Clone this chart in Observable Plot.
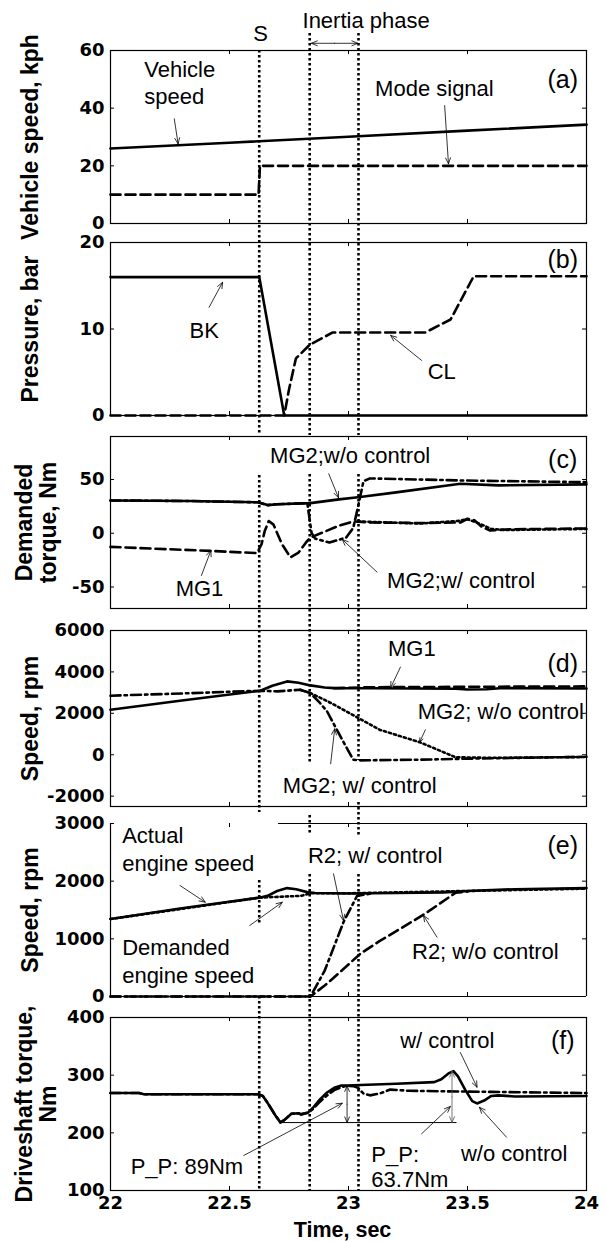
<!DOCTYPE html>
<html><head><meta charset="utf-8">
<script src="https://cdn.jsdelivr.net/npm/d3@7"></script>
<script src="https://cdn.jsdelivr.net/npm/@observablehq/plot@0.6"></script>
<style>
body{margin:0;background:#fff}
#chart{position:relative;width:606px;height:1241px;background:#fff}
#chart svg{position:absolute;left:0;top:0}
</style></head><body><div id="chart"></div><script>
// ---------------- data ----------------
const xTicks = [22, 22.5, 23, 23.5, 24];
const eventTimes = [22.625, 22.837, 23.042]; // S, inertia start, inertia end

// (a)
const aTicks = [0, 20, 40, 60];
const vehicleSpeed = [[22,26.0],[22.5,28.0],[23,30.1],[23.5,32.2],[24,34.3]];
const modeSignal = [[22,10],[22.622,10],[22.628,20],[24,20]];
// (b)
const bTicks = [0, 10, 20];
const pressBK = [[22,16],[22.625,16],[22.73,0],[24,0]];
const pressCL = [[22,0],[22.73,0],[22.75,3],[22.779,6.6],[22.838,8.2],[22.934,9.6],[23.323,9.6],[23.429,11.1],[23.526,16.1],[24,16.1]];
// (c)
const cTicks = [-50, 0, 50];
const torqMG2NoCtrl = [[22,30.5],[22.33,30],[22.62,28.8],[22.66,26.2],[22.7,27],[22.84,28],[22.96,31.5],[23.04,33.5],[23.2,38],[23.47,46],[23.63,44.5],[24,45.5]];
const torqMG2Ctrl = [[22,30.5],[22.33,30],[22.62,28.8],[22.66,26.2],[22.7,27],[22.827,28],[22.845,0],[22.86,-5],[22.92,-8.7],[22.99,-4],[23.02,5],[23.036,20.6],[23.063,48.4],[23.09,51],[23.5,49],[24,47.5]];
const torqMG1 = [[22,-12.7],[22.42,-16.4],[22.616,-18.5],[22.635,-10],[22.648,2],[22.665,11.4],[22.685,8],[22.72,-10],[22.756,-22.4],[22.79,-18],[22.82,-9],[22.84,-4],[22.9,1.5],[22.96,7],[23.02,11],[23.1,10],[23.3,9.5],[23.47,10],[23.5,13.5],[23.53,12],[23.56,6],[23.595,2.5],[23.68,3.7],[24,4.5]];
const torqMG1Alt = [[23.04,11],[23.3,9],[23.46,11.5],[23.5,13],[23.55,9],[23.6,4],[23.66,3],[24,4]];
// (d)
const dTicks = [-2000, 0, 2000, 4000, 6000];
const spdMG1 = [[22,2174],[22.3,2620],[22.63,3092],[22.68,3330],[22.742,3541],[22.79,3480],[22.84,3348],[22.9,3250],[22.94,3217],[23.1,3210],[23.45,3190],[23.5,3150],[23.58,3160],[23.65,3220],[24,3200]];
const spdMG1Alt = [[22.94,3217],[23.1,3260],[23.5,3280],[24,3300]];
const spdMG2Ctrl = [[22,2850],[22.3,2960],[22.63,3092],[22.7,3058],[22.797,3140],[22.84,2976],[22.88,2500],[22.91,2092],[22.966,884],[23.02,-242],[23.05,-270],[23.3,-240],[23.5,-190],[24,-100]];
const spdMG2NoCtrl = [[22.797,3140],[22.84,2976],[22.9,2650],[22.94,2415],[23.05,1720],[23.13,1210],[23.3,600],[23.45,-120],[23.6,-150],[24,-110]];
// (e)
const eTicks = [0, 1000, 2000, 3000];
const engActual = [[22,1343],[22.3,1530],[22.63,1716],[22.66,1745],[22.7,1830],[22.742,1880],[22.78,1860],[22.826,1810],[22.86,1795],[23.0,1785],[23.2,1795],[23.4,1805],[23.5,1830],[23.7,1860],[24,1880]];
const engDemand = [[22,1343],[22.63,1716],[22.8,1745],[22.84,1790],[23.0,1790],[23.5,1830],[24,1870]];
const r2Ctrl = [[22,0],[22.84,0],[22.9,450],[22.98,1300],[23.036,1745],[23.1,1790]];
const r2NoCtrl = [[22,0],[22.84,0],[22.9,190],[22.94,333],[23.05,742],[23.13,960],[23.22,1180],[23.32,1430],[23.45,1800],[23.5,1820]];
// (f)
const fTicks = [100, 200, 300, 400];
const shaftNoCtrl = [[22,269],[22.12,269],[22.14,267],[22.62,267],[22.64,264],[22.66,252],[22.69,232],[22.714,218],[22.73,222],[22.76,233],[22.79,234],[22.8,232],[22.83,235],[22.85,243],[22.88,258],[22.91,270],[22.94,278],[22.97,282],[23.0,282],[23.05,283],[23.2,285],[23.36,288],[23.39,293],[23.42,303],[23.441,307],[23.46,298],[23.49,275],[23.52,255],[23.54,251],[23.57,256],[23.6,264],[23.63,265],[23.7,263],[24,264]];
const shaftCtrl = [[22,269],[22.12,269],[22.14,267],[22.62,267],[22.64,264],[22.66,252],[22.69,232],[22.714,218],[22.73,222],[22.76,233],[22.79,234],[22.8,232],[22.83,235],[22.85,241],[22.88,254],[22.91,265],[22.94,274],[22.97,279],[22.99,281.5],[23.02,281],[23.04,278],[23.063,268],[23.09,265],[23.13,268],[23.175,275],[23.25,273],[23.4,272],[23.6,271],[24,269]];
const ppMin = 217.8, ppPeakCtrl = 281.5, ppPeakNoCtrl = 306.8;
const ppTimes = [22.714, 22.994, 23.435, 23.456];

// ---------------- layout ----------------
const W = 606, H = 1241, ML = 110, MR = 20;
const FONT = "'Liberation Sans', Arial, sans-serif";
const TFONT = "'DejaVu Sans', sans-serif";
const LS = {
  solid: {strokeWidth: 2.6},
  dashed: {strokeWidth: 2.6, strokeDasharray: "10,5"},
  dashdot: {strokeWidth: 2.6, strokeDasharray: "10,4,2.5,4"},
  dotted: {strokeWidth: 2.6, strokeDasharray: "2.2,3"}
};
const line = (data, style) => Plot.line(data, {x: d => d[0], y: d => d[1], stroke: "black", strokeLinejoin: "round", ...LS[style]});
const arrows = (arr, color = "black") => Plot.arrow(arr, {x1: "x1", y1: "y1", x2: "x2", y2: "y2", stroke: color, strokeWidth: 0.8, headLength: 12, headAngle: 45});

function panel(cfg) {
  const {top, bottom, yDomain, yTicks, title, titleDx, lines, notes, arr, extra = [], bottomAxis = false, customFrame = null} = cfg;
  const ph = bottom - top, pw = W - ML - MR;
  const inner = xTicks.slice(1, -1);
  const marks = [
    ...lines,
    ...extra,
    customFrame ? customFrame : Plot.frame({stroke: "black", strokeWidth: 1.2}),
    Plot.tickY(yTicks, {y: d => d, insetRight: pw - 4, stroke: "black"}),
    Plot.tickY(yTicks, {y: d => d, insetLeft: pw - 4, stroke: "black"}),
    Plot.tickX(inner, {x: d => d, insetBottom: ph - 4, stroke: "black"}),
    Plot.tickX(inner, {x: d => d, insetTop: ph - 4, stroke: "black"}),
    Plot.text(yTicks, {y: d => d, frameAnchor: "left", textAnchor: "end", lineAnchor: "middle", dx: -6, text: d => String(d), fontFamily: TFONT, fontWeight: "bold", fontSize: 18, fill: "black"}),
    Plot.text([title], {frameAnchor: "left", textAnchor: "middle", lineAnchor: "middle", rotate: -90, dx: titleDx, text: d => d, fontFamily: FONT, fontWeight: "bold", fontSize: 23, lineHeight: 1.05, fill: "black"}),
    arrows(arr),
    ...notes.map(n => Plot.text([n], {x: "x", y: "y", text: "text", textAnchor: n.anchor || "middle", lineAnchor: "middle", lineHeight: n.lh || 1, fontFamily: FONT, fontSize: n.size || 22, fill: "black"}))
  ];
  if (bottomAxis) {
    marks.push(Plot.text(xTicks, {x: d => d, frameAnchor: "bottom", lineAnchor: "top", textAnchor: "middle", dy: 6, text: d => String(d), fontFamily: TFONT, fontWeight: "bold", fontSize: 18, fill: "black"}));
    marks.push(Plot.text(["Time, sec"], {frameAnchor: "bottom", lineAnchor: "middle", textAnchor: "middle", dy: 40, dx: -6, text: d => d, fontFamily: FONT, fontWeight: "bold", fontSize: 21.5, fill: "black"}));
  }
  return Plot.plot({
    width: W, height: H, marginLeft: ML, marginRight: MR, marginTop: top, marginBottom: H - bottom,
    x: {domain: [22, 24], axis: null}, y: {domain: yDomain, axis: null},
    style: {background: "transparent", overflow: "visible", fontFamily: FONT},
    marks
  });
}

// dotted event guides (page-pixel spans between which each guide is visible)
const guideSpans = [
  [[50, 435], [475, 812], [880, 923], [996, 1190]],
  [[33, 435], [474, 763], [815, 834], [874, 1190]],
  [[33, 435], [474, 760], [802, 836], [874, 1190]]
];
const guideSegs = eventTimes.flatMap((t, i) => guideSpans[i].map(([a, b]) => ({t, y1: a, y2: b})));
const guides = Plot.plot({
  width: W, height: H, marginLeft: ML, marginRight: MR, marginTop: 0, marginBottom: 0,
  x: {domain: [22, 24], axis: null}, y: {domain: [0, H], range: [0, H], axis: null},
  style: {background: "transparent"},
  marks: [Plot.ruleX(guideSegs, {x: "t", y1: "y1", y2: "y2", stroke: "black", strokeWidth: 2.6, strokeDasharray: "2.4,2.6"})]
});

const pA = panel({
  top: 50, bottom: 223, yDomain: [0, 60], yTicks: aTicks, title: "Vehicle speed, kph", titleDx: -80,
  lines: [line(modeSignal, "dashed"), line(vehicleSpeed, "solid")],
  notes: [
    {text: "Vehicle\nspeed", x: 22.142, y: 49.1, anchor: "start", lh: 1.23},
    {text: "Mode signal", x: 23.361, y: 46.7},
    {text: "S", x: 22.631, y: 65.9},
    {text: "Inertia phase", x: 23.074, y: 70.4},
    {text: "(a)", x: 23.9, y: 49.6, size: 25}
  ],
  arr: [
    {x1: 22.268, y1: 36.3, x2: 22.284, y2: 27.6},
    {x1: 23.404, y1: 40.9, x2: 23.42, y2: 20.7},
    {x1: 22.9415, y1: 62.5, x2: 22.844, y2: 62.5},
    {x1: 22.9415, y1: 62.5, x2: 23.039, y2: 62.5}
  ]
});
const pB = panel({
  top: 242, bottom: 415, yDomain: [0, 20], yTicks: bTicks, title: "Pressure, bar", titleDx: -80,
  lines: [line(pressCL, "dashed"), line(pressBK, "solid")],
  notes: [
    {text: "BK", x: 22.394, y: 9.83},
    {text: "CL", x: 23.392, y: 5.0},
    {text: "(b)", x: 23.9, y: 18, size: 25}
  ],
  arr: [
    {x1: 22.414, y1: 12.5, x2: 22.471, y2: 15.4},
    {x1: 23.307, y1: 6.37, x2: 23.177, y2: 9.26}
  ]
});
const pC = panel({
  top: 436, bottom: 608, yDomain: [-70, 90], yTicks: cTicks, title: "Demanded\ntorque, Nm", titleDx: -74,
  lines: [line(torqMG1Alt, "dotted"), line(torqMG1, "dashed"), line(torqMG2Ctrl, "dashdot"), line(torqMG2NoCtrl, "solid")],
  notes: [
    {text: "MG2;w/o control", x: 23.007, y: 72.3},
    {text: "MG2;w/ control", x: 23.473, y: -44},
    {text: "MG1", x: 22.374, y: -51.7},
    {text: "(c)", x: 23.9, y: 67.7, size: 25}
  ],
  arr: [
    {x1: 22.917, y1: 55.3, x2: 22.958, y2: 33},
    {x1: 23.12, y1: -36.2, x2: 22.974, y2: -5.8},
    {x1: 22.382, y1: -39.3, x2: 22.422, y2: -16}
  ]
});
const pD = panel({
  top: 630, bottom: 806, yDomain: [-2500, 6000], yTicks: dTicks, title: "Speed, rpm", titleDx: -80,
  lines: [line(spdMG2NoCtrl, "dotted"), line(spdMG2Ctrl, "dashdot"), line(spdMG1Alt, "dashed"), line(spdMG1, "solid")],
  notes: [
    {text: "MG1", x: 23.266, y: 5116},
    {text: "MG2; w/o control", x: 23.64, y: 2054},
    {text: "MG2; w/ control", x: 23.047, y: -1486},
    {text: "(d)", x: 23.9, y: 4406, size: 25}
  ],
  arr: [
    {x1: 23.218, y1: 4228, x2: 23.177, y2: 3233},
    {x1: 23.323, y1: 1204, x2: 23.299, y2: 605},
    {x1: 22.925, y1: -438, x2: 22.942, y2: 1253}
  ]
});
const frameGapEnd = 22.706;
const pE = panel({
  top: 823, bottom: 996, yDomain: [0, 3000], yTicks: eTicks, title: "Speed, rpm", titleDx: -80,
  lines: [line(r2NoCtrl, "dashed"), line(r2Ctrl, "dashdot"), line(engDemand, "dotted"), line(engActual, "solid")],
  customFrame: [
    Plot.ruleX([22, 24], {stroke: "black", strokeWidth: 1.2}),
    Plot.ruleY([0], {stroke: "black", strokeWidth: 1.2}),
    Plot.ruleY([3000], {x1: frameGapEnd, x2: 24, stroke: "black", strokeWidth: 1.2})
  ],
  notes: [
    {text: "Actual\nengine speed", x: 22.049, y: 2578, anchor: "start", lh: 1.3},
    {text: "Demanded\nengine speed", x: 22.049, y: 638, anchor: "start", lh: 1.29},
    {text: "R2; w/ control", x: 23.112, y: 2445},
    {text: "R2; w/o control", x: 23.575, y: 768},
    {text: "(e)", x: 23.9, y: 2618, size: 25}
  ],
  arr: [
    {x1: 22.292, y1: 1925, x2: 22.398, y2: 1635},
    {x1: 22.585, y1: 1231, x2: 22.722, y2: 1635},
    {x1: 22.937, y1: 2128, x2: 22.979, y2: 1318},
    {x1: 23.372, y1: 1028, x2: 23.315, y2: 1405}
  ]
});
const ppMid1 = (ppMin + ppPeakCtrl) / 2, ppMid2 = (ppMin + ppPeakNoCtrl) / 2;
const pF = panel({
  top: 1017, bottom: 1190, yDomain: [100, 400], yTicks: fTicks, title: "Driveshaft torque,\nNm", titleDx: -74,
  lines: [line(shaftCtrl, "dashdot"), line(shaftNoCtrl, "solid")],
  extra: [
    Plot.ruleY([ppMin], {x1: ppTimes[0], x2: ppTimes[3], stroke: "black", strokeWidth: 1}),
    arrows([
      {x1: ppTimes[1], y1: ppMid1, x2: ppTimes[1], y2: ppPeakCtrl},
      {x1: ppTimes[1], y1: ppMid1, x2: ppTimes[1], y2: ppMin}
    ]),
    arrows([
      {x1: ppTimes[2], y1: ppMid2, x2: ppTimes[2], y2: ppPeakNoCtrl},
      {x1: ppTimes[2], y1: ppMid2, x2: ppTimes[2], y2: ppMin}
    ], "#555")
  ],
  bottomAxis: true,
  notes: [
    {text: "P_P: 89Nm", x: 22.321, y: 140.4},
    {text: "P_P:\n63.7Nm", x: 23.096, y: 141.3, anchor: "start", lh: 1.1},
    {text: "w/ control", x: 23.415, y: 360.1},
    {text: "w/o control", x: 23.696, y: 164.2},
    {text: "(f)", x: 23.9, y: 360.1, size: 25}
  ],
  arr: [
    {x1: 22.56, y1: 160.7, x2: 22.974, y2: 251.4},
    {x1: 23.307, y1: 198.3, x2: 23.428, y2: 245.7},
    {x1: 23.47, y1: 339.3, x2: 23.54, y2: 279.1},
    {x1: 23.664, y1: 192.4, x2: 23.55, y2: 244.4}
  ]
});

const root = document.getElementById("chart");
[guides, pA, pB, pC, pD, pE, pF].forEach(p => root.appendChild(p));
</script></body></html>
